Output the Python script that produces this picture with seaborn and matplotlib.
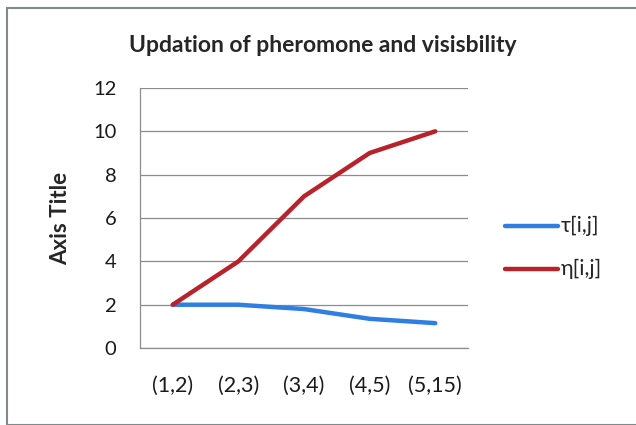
import pandas as pd
import matplotlib
matplotlib.use("Agg")
import matplotlib.pyplot as plt
import seaborn as sns
from matplotlib.patches import Rectangle

categories = ["(1,2)", "(2,3)", "(3,4)", "(4,5)", "(5,15)"]
tau_values = [2.0, 2.0, 1.8, 1.35, 1.15]
eta_values = [2.0, 4.0, 7.0, 9.0, 10.0]
series_names = ["τ[i,j]", "η[i,j]"]
y_ticks = [0, 2, 4, 6, 8, 10, 12]

df = pd.DataFrame({
    "pair": categories * 2,
    "pos": list(range(len(categories))) * 2,
    "value": tau_values + eta_values,
    "series": [series_names[0]] * len(categories) + [series_names[1]] * len(categories),
})

sns.set_theme(style="white")
plt.rcParams["font.family"] = ["Lato", "DejaVu Sans"]

fig = plt.figure(figsize=(6.36, 4.25), dpi=100)
ax = fig.add_axes([0.22, 0.181, 0.516, 0.612])

palette = {series_names[0]: "#2f7fe3", series_names[1]: "#b8232b"}
sns.lineplot(data=df, x="pos", y="value", hue="series", palette=palette,
             linewidth=3.2, ax=ax, legend=False)

ax.set_xlim(-0.5, len(categories) - 0.5)
ax.set_ylim(0, 12)
ax.set_yticks(y_ticks)
ax.set_xticks(range(len(categories)))
ax.set_xticklabels(categories)
ax.tick_params(axis="y", labelsize=14.5, length=0, pad=17, labelcolor="#1a1a1a")
ax.tick_params(axis="x", labelsize=15.5, length=0, pad=20, labelcolor="#1a1a1a")
ax.yaxis.grid(True, color="#8c8c8c", linewidth=0.9)
for s in ["top", "right"]:
    ax.spines[s].set_visible(False)
for s in ["left", "bottom"]:
    ax.spines[s].set_color("#8c8c8c")
    ax.spines[s].set_linewidth(0.9)
ax.set_xlabel("")
ax.set_ylabel("Axis Title", fontsize=16, fontweight="bold", labelpad=16)

fig.text(0.508, 0.893, "Updation of pheromone and visisbility",
         ha="center", va="center", fontsize=16.5, fontweight="bold")

# legend drawn by hand to the right of the plot area
for i, name in enumerate(series_names):
    y = 0.468 - i * 0.101
    fig.add_artist(plt.Line2D([0.794, 0.877], [y, y], color=palette[name],
                              linewidth=3.2, transform=fig.transFigure))
    fig.text(0.882, y, name, ha="left", va="center", fontsize=15.5)

# chart border
fig.add_artist(Rectangle((0.011, 0.0), 1.2, 0.981, transform=fig.transFigure,
                         fill=False, edgecolor="#7f8a8a", linewidth=1.5))

fig.savefig("out.png", dpi=100)
